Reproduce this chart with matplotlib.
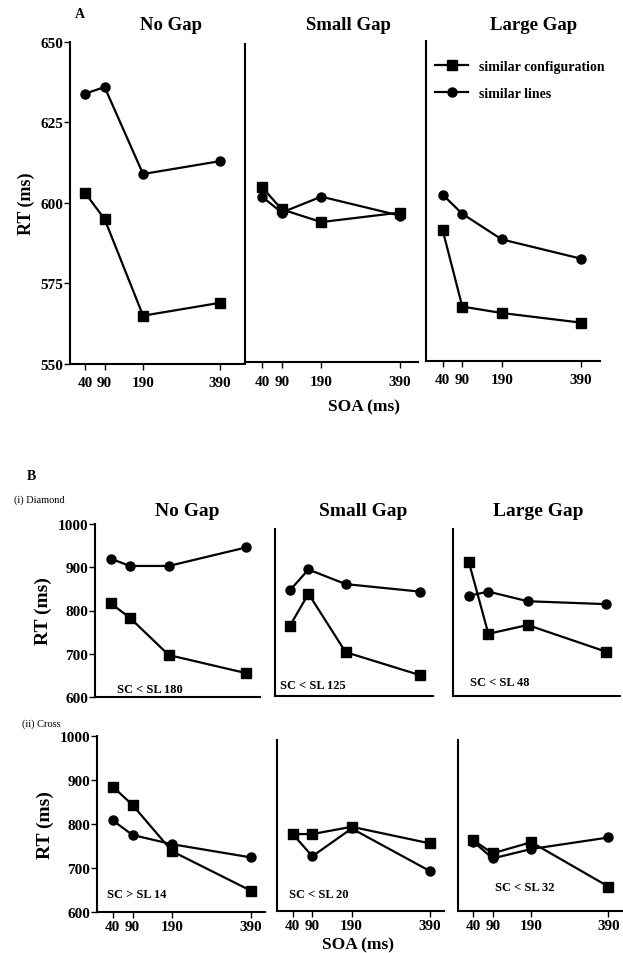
import numpy as np
import matplotlib.pyplot as plt

plt.rcParams['font.family'] = ['Liberation Serif', 'DejaVu Serif']
plt.rcParams['font.weight'] = 'bold'
plt.rcParams['axes.labelweight'] = 'bold'
plt.rcParams['axes.titleweight'] = 'bold'

W, H = 623, 954

soa = [40, 90, 190, 390]
gaps = ['No Gap', 'Small Gap', 'Large Gap']

# A: RT for similar configuration / similar lines
a_config = [[603, 595, 565, 569], [605, 598, 594, 597], [591, 567, 565, 562]]
a_lines = [[634, 636, 609, 613], [602, 597, 602, 596], [602, 596, 588, 582]]

# B (i) Diamond
d_config = [[817, 783, 697, 655], [768, 845, 705, 650], [922, 749, 770, 706]]
d_lines = [[920, 903, 903, 946], [853, 903, 868, 850], [840, 850, 827, 820]]
d_notes = ['SC < SL 180', 'SC < SL 125', 'SC < SL 48']

# B (ii) Cross
c_config = [[885, 843, 738, 648], [780, 780, 797, 758], [765, 735, 761, 657]]
c_lines = [[808, 775, 754, 724], [780, 728, 793, 693], [762, 723, 745, 772]]
c_notes = ['SC > SL 14', 'SC < SL 20', 'SC < SL 32']


def px_axes(fig, left, top, right, bottom):
    return fig.add_axes([left / W, 1 - bottom / H, (right - left) / W, (bottom - top) / H])


def ftext(x, y, s, **kw):
    fig.text(x / W, 1 - y / H, s, **kw)


def style(ax, first, xlabels=True, pad=5):
    for s in ['top', 'right']:
        ax.spines[s].set_visible(False)
    ax.spines['left'].set_linewidth(1.5)
    ax.spines['bottom'].set_linewidth(1.5)
    ax.set_xticks(soa)
    if xlabels:
        ax.set_xticklabels([str(v) for v in soa], fontsize=11)
    else:
        ax.set_xticklabels([])
    ax.tick_params(axis='x', direction='out', length=4, width=1, pad=pad)
    if first:
        ax.tick_params(axis='y', direction='out', length=4, width=1, labelsize=11, pad=1)
    else:
        ax.tick_params(axis='y', length=0, labelleft=False)


def draw(ax, config, lines):
    ax.plot(soa, config, color='black', lw=1.6, marker='s', ms=7.5, label='similar configuration')
    ax.plot(soa, lines, color='black', lw=1.6, marker='o', ms=6.5, label='similar lines')


fig = plt.figure(figsize=(W / 100, H / 100), dpi=100)

# ---- panel A
a_rects = [(70, 43, 245, 365), (245, 45, 418, 363), (426, 42, 600, 362)]
a_xlims = [(0, 455), (-3, 435), (-2, 439)]
a_title_x = [171, 348, 534]
for i in range(3):
    ax = px_axes(fig, *a_rects[i])
    draw(ax, a_config[i], a_lines[i])
    ax.set_ylim(550, 650)
    ax.set_xlim(*a_xlims[i])
    ax.set_yticks([550, 575, 600, 625, 650])
    style(ax, i == 0)
    ftext(a_title_x[i], 25, gaps[i], fontsize=13.5, ha='center', va='center')
    if i == 0:
        ax.set_ylabel('RT (ms)', fontsize=13, labelpad=4)
    if i == 2:
        ax.legend(loc='upper left', bbox_to_anchor=(-0.02, 0.98), frameon=False,
                  fontsize=10, handlelength=2.4, handletextpad=0.8, labelspacing=1.0)

ftext(75, 15, 'A', fontsize=10, ha='left', va='center')
ftext(364, 407, 'SOA (ms)', fontsize=12.5, ha='center', va='center')

# ---- panel B
d_rects = [(95, 525, 260, 698), (275, 530, 433, 697), (453, 530, 620, 697)]
c_rects = [(97, 737, 265, 913), (277, 741, 444, 912), (458, 741, 622, 912)]
b_title_x = [187, 363, 538]
d_note_xy = [(117, 690), (280, 686), (470, 683)]
c_note_xy = [(107, 895), (289, 895), (495, 888)]
b_xlim = (0, 425)
for i in range(3):
    ax = px_axes(fig, *d_rects[i])
    draw(ax, d_config[i], d_lines[i])
    ax.set_ylim(600, 1000)
    ax.set_xlim(*b_xlim)
    ax.set_yticks([600, 700, 800, 900, 1000])
    style(ax, i == 0, xlabels=False)
    ax.tick_params(axis='x', length=0)
    ftext(b_title_x[i], 512, gaps[i], fontsize=14, ha='center', va='center')
    ftext(*d_note_xy[i], d_notes[i], fontsize=9, ha='left', va='center')
    if i == 0:
        ax.set_ylabel('RT (ms)', fontsize=14, labelpad=4)

for i in range(3):
    ax = px_axes(fig, *c_rects[i])
    draw(ax, c_config[i], c_lines[i])
    ax.set_ylim(600, 1000)
    ax.set_xlim(*b_xlim)
    ax.set_yticks([600, 700, 800, 900, 1000])
    style(ax, i == 0, pad=2)
    ftext(*c_note_xy[i], c_notes[i], fontsize=9, ha='left', va='center')
    if i == 0:
        ax.set_ylabel('RT (ms)', fontsize=14, labelpad=4)

ftext(27, 476, 'B', fontsize=10, ha='left', va='center')
ftext(14, 500, '(i) Diamond', fontsize=7.5, weight='normal', ha='left', va='center')
ftext(22, 724, '(ii) Cross', fontsize=7.5, weight='normal', ha='left', va='center')
ftext(358, 945, 'SOA (ms)', fontsize=12.5, ha='center', va='center')

fig.savefig('out.png', dpi=100)
